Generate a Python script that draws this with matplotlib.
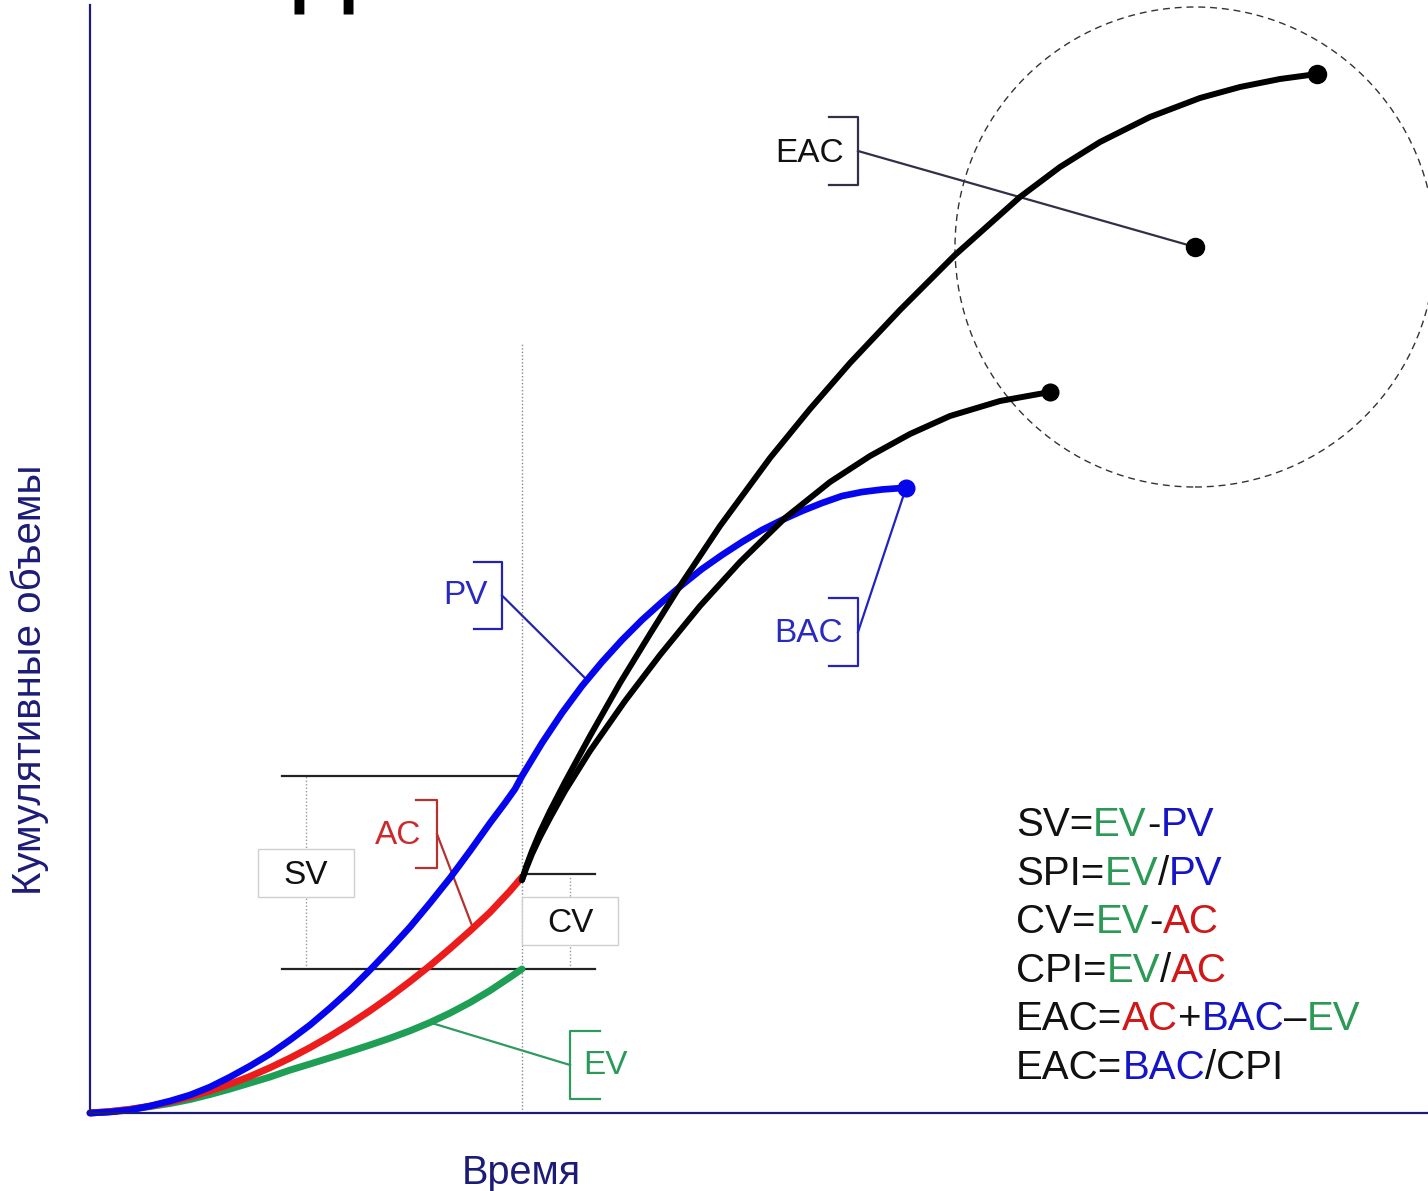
import numpy as np
import matplotlib
matplotlib.use("Agg")
import matplotlib.pyplot as plt
from matplotlib.patches import Circle, Rectangle

plt.rcParams['font.family'] = ['Liberation Sans', 'DejaVu Sans']

# Cumulative values over time (time units on x, cumulative volume on y)
pv_t = [0, 20, 40, 60, 80, 100, 120, 140, 160, 180, 200, 220, 240, 260, 280, 300, 320, 340, 360,
        380, 400, 415, 425, 432, 452, 472, 492, 512, 532, 552, 572, 592, 612, 632, 652, 672, 692,
        712, 732, 752, 772, 792, 812, 816]
pv_v = [0, 1, 3, 7, 12, 18, 26, 36, 47, 59, 73, 88, 105, 123, 143, 164, 186, 210, 235,
        262, 290, 310, 324, 337, 370, 400, 427, 451, 473, 493, 511, 528, 544, 558, 571, 583, 593,
        602, 610, 617, 621, 623.5, 625, 625]

ac_t = [0, 20, 40, 60, 80, 100, 120, 140, 160, 180, 200, 220, 240, 260, 280, 300, 320, 340, 360,
        380, 400, 420, 432]
ac_v = [0, 1.4, 3.7, 6.9, 11.1, 16.1, 22.1, 28.9, 36.6, 45.3, 54.9, 65.4, 76.8, 89.1, 102.3, 116.4,
        131.5, 147.4, 164.4, 182.1, 200.7, 222, 236]

ev_t = [0, 20, 40, 60, 80, 100, 120, 140, 160, 180, 200, 220, 240, 260, 280, 300, 320, 340, 360,
        380, 400, 420, 432]
ev_v = [0, 1.4, 3.6, 6.4, 9.5, 13.5, 18.5, 24, 30, 36, 42.9, 49, 55.2, 61.5, 68, 74.8, 82.2, 90.5,
        99.9, 110.5, 122.4, 135.7, 144]

eac_hi_t = [432, 436, 442, 450, 460, 475, 500, 530, 560, 590, 630, 680, 720, 760, 810, 865, 930,
            970, 1010, 1060, 1110, 1150, 1190, 1227]
eac_hi_v = [233, 246, 262, 281, 302, 331, 377, 430, 479, 527, 587, 655, 704, 750, 803, 858, 916,
            946, 971, 996, 1015, 1026, 1034, 1039]

eac_lo_t = [432, 436, 442, 450, 460, 475, 500, 535, 570, 610, 650, 695, 740, 780, 820, 860, 910, 960]
eac_lo_v = [233, 244, 259, 276, 295, 322, 362, 412, 458, 507, 551, 595, 631, 657, 679, 697, 712, 721]

status_t = 432
eac_forecast = (1105, 866)

formulas = [
    [("SV=", "k"), ("EV", "g"), ("-", "k"), ("PV", "b")],
    [("SPI=", "k"), ("EV", "g"), ("/", "k"), ("PV", "b")],
    [("CV=", "k"), ("EV", "g"), ("-", "k"), ("AC", "r")],
    [("CPI=", "k"), ("EV", "g"), ("/", "k"), ("AC", "r")],
    [("EAC=", "k"), ("AC", "r"), ("+", "k"), ("BAC", "b"), ("\u2013", "k"), ("EV", "g")],
    [("EAC=", "k"), ("BAC", "b"), ("/CPI", "k")],
]

BLUE = "#0505ee"
RED = "#ec1c1c"
GREEN = "#1f9e55"
NAVY = "#1c1c78"
F_COL = {"k": "#111111", "g": "#2a9a55", "b": "#1515c8", "r": "#d01818"}

fig = plt.figure(figsize=(14.28, 11.91), dpi=100)
ax = fig.add_axes([0, 0, 1, 1])
ax.set_xlim(-90, 1338)
ax.set_ylim(-78, 1113)
ax.set_xticks([])
ax.set_yticks([])
for s in ("top", "right"):
    ax.spines[s].set_visible(False)
for s in ("left", "bottom"):
    ax.spines[s].set_position(("data", 0))
    ax.spines[s].set_color(NAVY)
    ax.spines[s].set_linewidth(1.6)
    ax.spines[s].set_zorder(6)
ax.spines["left"].set_bounds(0, 1108)
ax.spines["bottom"].set_bounds(0, 1338)

# partially visible heading glyph at the top edge
fig.text(285 / 1428, 1 - 15 / 1191, "П", fontsize=76, va="baseline", ha="left", color="k")

# status date guide
ax.plot([status_t, status_t], [0, 770], color="#888888", lw=1, ls=(0, (1, 1.5)), zorder=1)

# variance markers
pv_now = pv_v[pv_t.index(status_t)]
ev_now = ev_v[-1]
ac_now = ac_v[-1]
ax.plot([192, status_t], [pv_now, pv_now], color="#222222", lw=1.6, zorder=2)
ax.plot([192, 505], [ev_now, ev_now], color="#222222", lw=1.6, zorder=2)
ax.plot([status_t, 505], [ac_now + 3, ac_now + 3], color="#222222", lw=1.6, zorder=2)
ax.plot([216, 216], [ev_now, pv_now], color="#999999", lw=1, ls=(0, (1, 1.5)), zorder=1)
ax.plot([480, 480], [ev_now, ac_now], color="#999999", lw=1, ls=(0, (1, 1.5)), zorder=1)

for (x0, y0), txt in (((168, 216), "SV"), ((432, 168), "CV")):
    ax.add_patch(Rectangle((x0, y0), 96, 48, fc="white", ec="#cfcfcf", lw=1, zorder=3))
    ax.text(x0 + 48, y0 + 22, txt, fontsize=24, ha="center", va="center", color="#111111", zorder=4)

# forecast region
ax.add_patch(Circle(eac_forecast, 240, fill=False, ec="#333333", lw=1, ls=(0, (5, 3.5)), zorder=2))

# curves
kw = dict(solid_joinstyle="round", solid_capstyle="round")
ax.plot(ev_t, ev_v, color=GREEN, lw=5, zorder=5, **kw)
ax.plot(ac_t, ac_v, color=RED, lw=5, zorder=5, **kw)
ax.plot(pv_t, pv_v, color=BLUE, lw=4.8, zorder=5, **kw)
ax.plot(eac_lo_t, eac_lo_v, color="k", lw=4.3, zorder=5, **kw)
ax.plot(eac_hi_t, eac_hi_v, color="k", lw=4.3, zorder=5, **kw)
ax.plot(pv_t[-1], pv_v[-1], "o", color=BLUE, ms=12, zorder=6)
ax.plot(eac_lo_t[-1], eac_lo_v[-1], "o", color="k", ms=12, zorder=6)
ax.plot(eac_hi_t[-1], eac_hi_v[-1], "o", color="k", ms=13, zorder=6)
ax.plot(*eac_forecast, "o", color="k", ms=13, zorder=6)


def bracket(x, y_lo, y_hi, tick, color):
    ax.plot([x + tick, x, x, x + tick], [y_hi, y_hi, y_lo, y_lo], color=color, lw=1.6, zorder=4)


def callout(label, color, text_xy, br_x, br_lo, br_hi, tick, target, line_color):
    bracket(br_x, br_lo, br_hi, tick, line_color)
    mid = (br_lo + br_hi) / 2
    ax.plot([br_x, target[0]], [mid, target[1]], color=line_color, lw=1.6, zorder=4)
    ax.text(*text_xy, label, fontsize=24, ha="center", va="center", color=color, zorder=4)


callout("EAC", "#111111", (720, 960), 768, 928, 996, -29, eac_forecast, "#303048")
callout("PV", "#2a2ac0", (376, 517), 412, 484, 551, -28, (497, np.interp(497, pv_t, pv_v)), "#2323b0")
callout("BAC", "#2a2ac0", (719, 479), 768, 447, 515, -29, (pv_t[-1], pv_v[-1]), "#2323c0")
callout("AC", "#cc2a2a", (308, 278), 347, 245, 313, -21, (383, np.interp(383, ac_t, ac_v)), "#b83030")
callout("EV", "#2a9a5a", (516, 47), 480, 14, 82, 30, (340, np.interp(340, ev_t, ev_v)), "#2f9a60")

# axis titles
ax.text(431, -60, "Время", fontsize=28.5, ha="center", va="center", color=NAVY)
ax.text(-60, 433, "Кумулятивные объемы", fontsize=29, ha="center", va="center",
        rotation=90, color=NAVY)

# formula block
for i, parts in enumerate(formulas):
    y = 277 - 48.6 * i
    t = ax.text(926, y, parts[0][0], fontsize=29, color=F_COL[parts[0][1]], va="baseline", ha="left")
    for s, c in parts[1:]:
        t = ax.annotate(s, xy=(1, 0), xycoords=t, fontsize=29, color=F_COL[c], va="bottom", ha="left")

fig.savefig("out.png", dpi=100)
